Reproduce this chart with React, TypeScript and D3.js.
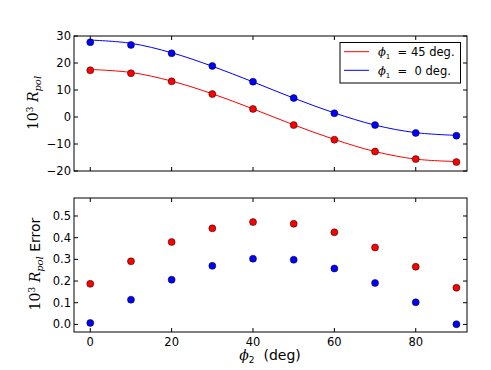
import React from "react";
import * as d3 from "d3";

const phi2 = [0, 10, 20, 30, 40, 50, 60, 70, 80, 90];
const rpol45 = [17.3, 16.2, 13.2, 8.5, 3.0, -3.0, -8.4, -12.8, -15.6, -16.7];
const rpol0 = [27.7, 26.7, 23.6, 18.9, 13.1, 7.0, 1.4, -3.0, -5.9, -6.9];
const fit45 = [17.6, 16.5, 13.3, 8.6, 3.0, -2.9, -8.3, -12.8, -15.6, -16.5];
const fit0 = [28.5, 27.3, 23.8, 18.8, 13.0, 7.0, 1.5, -3.0, -5.8, -6.8];
const err45 = [0.187, 0.291, 0.380, 0.443, 0.472, 0.464, 0.425, 0.355, 0.266, 0.169];
const err0 = [0.007, 0.114, 0.206, 0.270, 0.303, 0.298, 0.258, 0.191, 0.102, 0.001];
const xTicks = [0, 20, 40, 60, 80];
const yTicksTop = [-20, -10, 0, 10, 20, 30];
const yTicksBot = [0.0, 0.1, 0.2, 0.3, 0.4, 0.5];

const RED = "#ff0000";
const BLUE = "#0000ff";
const FONT = "DejaVu Sans, sans-serif";
const SERIF = "DejaVu Serif, serif";

export default function App() {
  const L = 74, R = 467;
  const topT = 36, topB = 171;
  const botT = 198, botB = 332;
  const x = d3.scaleLinear().domain([-4, 92.6]).range([L, R]);
  const yTop = d3.scaleLinear().domain([-20, 30]).range([topB, topT]);
  const yBot = d3.scaleLinear().domain([-0.035, 0.583]).range([botB, botT]);
  const line = (ys: number[]) =>
    d3.line<number>().x((_, i) => x(phi2[i])).y((v) => yTop(v)).curve(d3.curveCatmullRom.alpha(0.5))(ys) || "";
  const tk = 4;

  const frame = (t: number, b: number, y: d3.ScaleLinear<number, number>, yt: number[], fmt: (v: number) => string, showX: boolean) => (
    <g>
      {xTicks.map((v) => (
        <g key={"x" + v}>
          <line x1={x(v)} x2={x(v)} y1={b} y2={b - tk} stroke="#000" />
          <line x1={x(v)} x2={x(v)} y1={t} y2={t + tk} stroke="#000" />
          {showX && (
            <text x={x(v)} y={b + 14} textAnchor="middle" fontFamily={FONT} fontSize={11.5}>{v}</text>
          )}
        </g>
      ))}
      {yt.map((v) => (
        <g key={"y" + v}>
          <line x1={L} x2={L + tk} y1={y(v)} y2={y(v)} stroke="#000" />
          <line x1={R} x2={R - tk} y1={y(v)} y2={y(v)} stroke="#000" />
          <text x={L - 3} y={y(v) + 4} textAnchor="end" fontFamily={FONT} fontSize={11.5}>{fmt(v)}</text>
        </g>
      ))}
      <rect x={L} y={t} width={R - L} height={b - t} fill="none" stroke="#000" strokeWidth={1} />
    </g>
  );

  const dot = (cx: number, cy: number, fill: string, key: string) => (
    <circle key={key} cx={cx} cy={cy} r={3.5} fill={fill} stroke="#000" strokeWidth={0.5} />
  );

  return (
    <svg width={491} height={370} style={{ position: "absolute", left: 0, top: 0, background: "#fff" }}>
      <rect width={491} height={370} fill="#fff" />
      {/* top panel */}
      <path d={line(fit45)} fill="none" stroke={RED} strokeWidth={1} />
      <path d={line(fit0)} fill="none" stroke={BLUE} strokeWidth={1} />
      {rpol0.map((v, i) => dot(x(phi2[i]), yTop(v), BLUE, "b" + i))}
      {rpol45.map((v, i) => dot(x(phi2[i]), yTop(v), RED, "r" + i))}
      {frame(topT, topB, yTop, yTicksTop, (v) => (v < 0 ? "\u2212" + Math.abs(v) : String(v)), false)}

      {/* legend */}
      <rect x={340} y={42.5} width={120.5} height={40.5} fill="#fff" stroke="#000" strokeWidth={1} />
      <line x1={344} x2={369} y1={51.7} y2={51.7} stroke={RED} strokeWidth={1} />
      <line x1={344} x2={369} y1={70.3} y2={70.3} stroke={BLUE} strokeWidth={1} />
      <text x={378} y={55.5} fontFamily={FONT} fontSize={11.5} style={{ whiteSpace: "pre" }}>
        <tspan fontFamily={SERIF} fontStyle="italic">ϕ</tspan>
        <tspan fontSize={7} dy={3}>1</tspan>
        <tspan dy={-3}>{"  = 45 deg."}</tspan>
      </text>
      <text x={378} y={74.5} fontFamily={FONT} fontSize={11.5} style={{ whiteSpace: "pre" }}>
        <tspan fontFamily={SERIF} fontStyle="italic">ϕ</tspan>
        <tspan fontSize={7} dy={3}>1</tspan>
        <tspan dy={-3}>{"  =  0 deg."}</tspan>
      </text>

      {/* top y label */}
      <text transform="translate(38,103) rotate(-90)" textAnchor="middle" fontFamily={SERIF} fontSize={14}>
        <tspan>10</tspan>
        <tspan fontSize={9} dy={-5}>3</tspan>
        <tspan dy={5} fontStyle="italic">{" R"}</tspan>
        <tspan fontSize={10} dy={3} fontStyle="italic">pol</tspan>
      </text>

      {/* bottom panel */}
      {err45.map((v, i) => dot(x(phi2[i]), yBot(v), RED, "er" + i))}
      {err0.map((v, i) => dot(x(phi2[i]), yBot(v), BLUE, "eb" + i))}
      {frame(botT, botB, yBot, yTicksBot, (v) => v.toFixed(1), true)}

      <text transform="translate(40,264) rotate(-90)" textAnchor="middle" fontFamily={SERIF} fontSize={14}>
        <tspan>10</tspan>
        <tspan fontSize={9} dy={-5}>3</tspan>
        <tspan dy={5} fontStyle="italic">{" R"}</tspan>
        <tspan fontSize={10} dy={3} fontStyle="italic">pol</tspan>
        <tspan dy={-3} fontFamily={FONT}>{" Error"}</tspan>
      </text>

      <text x={270} y={360} textAnchor="middle" fontFamily={FONT} fontSize={14} style={{ whiteSpace: "pre" }}>
        <tspan fontFamily={SERIF} fontStyle="italic">ϕ</tspan>
        <tspan fontSize={9} dy={3}>2</tspan>
        <tspan dy={-3}>{"  (deg)"}</tspan>
      </text>
    </svg>
  );
}
